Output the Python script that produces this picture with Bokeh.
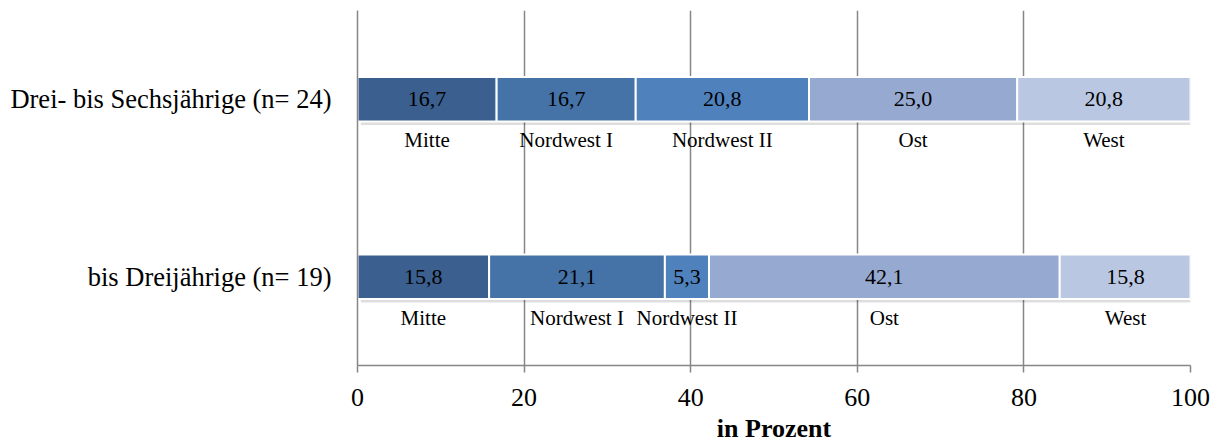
from bokeh.plotting import figure
from bokeh.models import FactorRange, Range1d, ColumnDataSource, FixedTicker
from bokeh.transform import dodge
from bokeh.core.properties import value
from bokeh.embed import file_html
from bokeh.resources import INLINE

# ---- data ----
groups = ["bis Dreijährige (n= 19)", "Drei- bis Sechsjährige (n= 24)"]
regions = ["Mitte", "Nordwest I", "Nordwest II", "Ost", "West"]
values_bis3 = [15.8, 21.1, 5.3, 42.1, 15.8]
values_3bis6 = [16.7, 16.7, 20.8, 25.0, 20.8]
region_colors = ["#3B5F8E", "#4573A8", "#4F81BD", "#95A9D1", "#B9C7E2"]
x_ticks = [0, 20, 40, 60, 80, 100]

series = {groups[0]: values_bis3, groups[1]: values_3bis6}

rows = dict(y=[], left=[], right=[], mid=[], label=[], region=[], color=[])
for g in groups:
    acc = 0.0
    for r, v, c in zip(regions, series[g], region_colors):
        rows["y"].append(g)
        rows["left"].append(acc)
        rows["right"].append(acc + v)
        rows["mid"].append(acc + v / 2)
        rows["label"].append(f"{v:.1f}".replace(".", ","))
        rows["region"].append(r)
        rows["color"].append(c)
        acc += v
src = ColumnDataSource(rows)

shadow_src = ColumnDataSource(dict(y=groups, left=[0.4] * 2,
                                   right=[sum(series[g]) + 0.4 for g in groups]))

FONT = "Liberation Serif"
GRID = "#868686"

p = figure(width=1222, height=447, y_range=FactorRange(*groups),
           x_range=Range1d(0, 100), output_backend="svg",
           toolbar_location=None, min_border_left=357, min_border_right=32,
           min_border_top=10, min_border_bottom=82)
p.outline_line_color = None
p.background_fill_color = "white"

# shadow
p.hbar(y=dodge("y", -0.02, range=p.y_range), left="left", right="right",
       height=0.25, source=shadow_src, fill_color="#000000", fill_alpha=0.13,
       line_color=None)
# bars
p.hbar(y="y", left="left", right="right", height=0.25, source=src,
       fill_color="color", line_color="white", line_width=2)
# value labels
p.text(x="mid", y="y", text="label", source=src, text_align="center",
       text_baseline="middle", text_font=value(FONT), text_font_size="22px",
       text_color="black")
# region labels
p.text(x="mid", y="y", text="region", source=src, text_align="center",
       text_baseline="middle", y_offset=41, text_font=value(FONT),
       text_font_size="21px", text_color="black")

# axes
p.xaxis.ticker = FixedTicker(ticks=x_ticks)
p.xaxis.axis_label = "in Prozent"
p.xaxis.axis_label_text_font = FONT
p.xaxis.axis_label_text_font_style = "bold"
p.xaxis.axis_label_text_font_size = "26px"
p.xaxis.axis_label_text_color = "black"
p.xaxis.axis_label_standoff = 5
p.xaxis.major_label_text_font = FONT
p.xaxis.major_label_text_font_size = "26px"
p.xaxis.major_label_text_color = "black"
p.xaxis.major_label_standoff = 16
p.xaxis.axis_line_color = GRID
p.xaxis.axis_line_width = 1.5
p.xaxis.major_tick_line_color = GRID
p.xaxis.major_tick_line_width = 1.5
p.xaxis.major_tick_out = 7
p.xaxis.major_tick_in = 0
p.xaxis.minor_tick_line_color = None

p.yaxis.major_label_text_font = FONT
p.yaxis.major_label_text_font_size = "26.5px"
p.yaxis.major_label_text_color = "black"
p.yaxis.major_label_standoff = 26
p.yaxis.axis_line_color = GRID
p.yaxis.axis_line_width = 1.5
p.yaxis.major_tick_line_color = None
p.yaxis.major_tick_out = 0
p.yaxis.minor_tick_line_color = None

p.xgrid.ticker = FixedTicker(ticks=x_ticks)
p.xgrid.grid_line_color = GRID
p.xgrid.grid_line_width = 1.5
p.ygrid.grid_line_color = None

open("out.html", "w").write(file_html(p, INLINE))
